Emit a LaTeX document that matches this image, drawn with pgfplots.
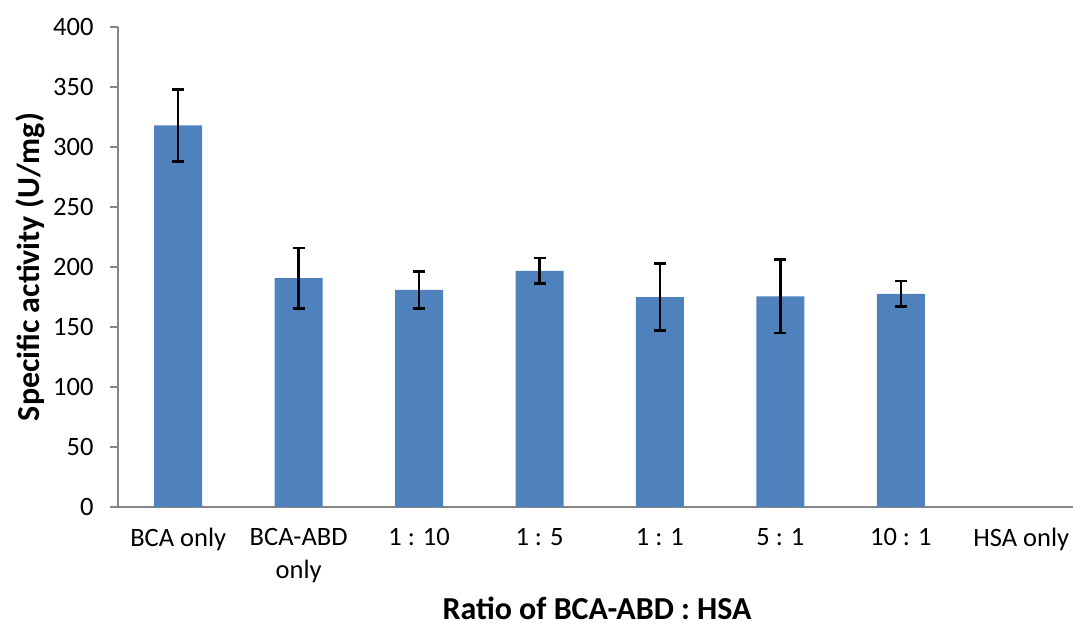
\documentclass[border=0pt]{standalone}
\usepackage{pgfplots}
\pgfplotsset{compat=1.18}
\usepackage{pgfplotstable}
\usepackage{fontspec}
\setmainfont{Carlito}
\definecolor{barblue}{HTML}{4F81BD}
\definecolor{axgray}{HTML}{868686}
\pgfplotstableread{
x y err
0 318.1 30.0
1 190.7 25.1
2 181.0 15.4
3 196.8 10.7
4 174.9 28.0
5 175.6 30.8
6 177.6 10.7
}\datatable
\begin{document}
\begin{tikzpicture}
\begin{axis}[
  at={(118pt,123pt)}, anchor=south west,
  scale only axis, width=955pt, height=480pt,
  xmin=-0.5, xmax=7.43, ymin=0, ymax=400,
  axis x line*=bottom, axis y line*=left,
  axis line style={-, axgray, line width=1.3pt},
  ytick={0,50,...,400},
  xtick={0,1,2,3,4,5,6,7},
  xticklabels={BCA only,{BCA-ABD\\only},1 : 10,1 : 5,1 : 1,5 : 1,10 : 1,HSA only},
  tick align=outside,
  major tick length=8pt,
  y tick style={axgray, line width=1.3pt},
  x tick style={draw=none},
  /pgf/number format/assume math mode=true,
  yticklabel style={font=\fontsize{26.5}{30}\selectfont, anchor=east, xshift=-13pt},
  xticklabel style={font=\fontsize{26.5}{33}\selectfont, align=center, anchor=north, yshift=-10pt},
  xlabel={\bfseries Ratio of BCA-ABD : HSA},
  ylabel={\bfseries Specific activity (U/mg)},
  xlabel style={font=\fontsize{32}{36}\selectfont, at={(axis description cs:0.5016,-0.235)}, anchor=base},
  ylabel style={font=\fontsize{32}{36}\selectfont, at={(axis description cs:-0.092,0.5)}, anchor=center, rotate=0},
  clip=false,
]
\addplot[ybar, bar width=48pt, fill=barblue, draw=none,
  error bars/.cd, y dir=both, y explicit,
  error bar style={black, line width=2.5pt},
  error mark options={rotate=90, mark size=6pt, line width=2.5pt, black}]
  table[x=x, y=y, y error=err] {\datatable};
\end{axis}
\pgfresetboundingbox
\path[use as bounding box] (0,0) rectangle (1073pt,630pt);
\end{tikzpicture}
\end{document}
